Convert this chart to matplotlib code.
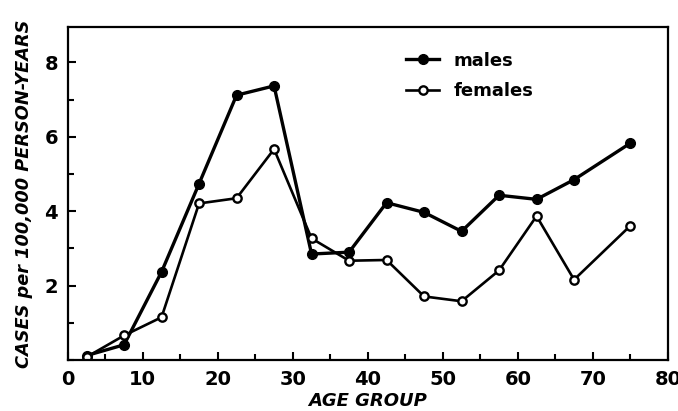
import matplotlib
matplotlib.use("Agg")
from matplotlib import pyplot as plt
from matplotlib.ticker import MultipleLocator

age = [2.5, 7.5, 12.5, 17.5, 22.5, 27.5, 32.5, 37.5, 42.5, 47.5, 52.5, 57.5, 62.5, 67.5, 75]
males = [0.12, 0.41, 2.37, 4.74, 7.12, 7.37, 2.85, 2.9, 4.23, 3.97, 3.46, 4.43, 4.32, 4.85, 5.83]
females = [0.08, 0.66, 1.15, 4.21, 4.35, 5.67, 3.27, 2.67, 2.69, 1.71, 1.58, 2.41, 3.87, 2.16, 3.61]

fig = plt.figure(figsize=(6.78, 4.11), dpi=100)
ax = fig.add_axes([0.1, 0.124, 0.885, 0.81])

ax.plot(age, males, color="black", linewidth=2.4, marker="o", markersize=7,
        markerfacecolor="black", label="males")
ax.plot(age, females, color="black", linewidth=1.9, marker="o", markersize=6,
        markerfacecolor="white", markeredgewidth=1.7, label="females")

ax.set_xlim(0, 80)
ax.set_ylim(0, 8.95)
ax.xaxis.set_major_locator(MultipleLocator(10))
ax.xaxis.set_minor_locator(MultipleLocator(5))
ax.yaxis.set_minor_locator(MultipleLocator(1))
ax.set_yticks([2, 4, 6, 8])
ax.tick_params(which="major", direction="in", length=6, width=1.5, labelsize=14, pad=7)
ax.tick_params(which="minor", direction="in", length=4, width=1.5)
for lbl in ax.get_xticklabels() + ax.get_yticklabels():
    lbl.set_fontweight("bold")
for s in ax.spines.values():
    s.set_linewidth(1.6)

ax.set_xlabel("AGE GROUP", fontsize=13, style="italic", fontweight="bold", labelpad=2)
ax.set_ylabel("CASES per 100,000 PERSON-YEARS", fontsize=12.8, style="italic",
              fontweight="bold", labelpad=8)

leg = ax.legend(loc="upper center", bbox_to_anchor=(0.67, 0.975), frameon=False,
                fontsize=13, handlelength=1.8, labelspacing=0.7)
for t in leg.get_texts():
    t.set_fontweight("bold")

fig.savefig("out.png", dpi=100)
